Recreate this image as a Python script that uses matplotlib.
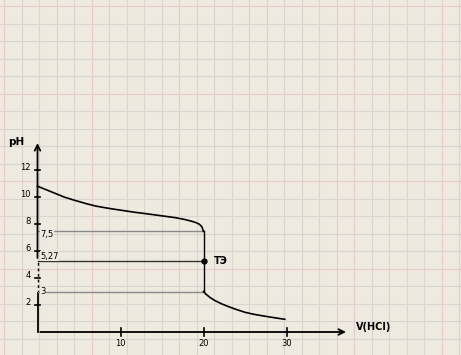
import matplotlib.pyplot as plt
import numpy as np

# titration curve
v_before = [0, 1, 2, 3.2, 4.5, 5.8, 7, 8.2, 9.3, 10.5, 11.7, 13, 14.2, 15.4,
            16.6, 17.7, 18.6, 19.1, 19.5, 19.8, 20.0]
ph_before = [10.8, 10.55, 10.3, 10.0, 9.75, 9.52, 9.33, 9.2, 9.09, 8.98,
             8.87, 8.77, 8.67, 8.57, 8.47, 8.34, 8.2, 8.1, 7.98, 7.8, 7.45]
v_after = [20, 20.3, 20.8, 21.4, 22.2, 23, 24, 25, 26, 27, 28.4, 29.8]
ph_after = [3.0, 2.8, 2.55, 2.32, 2.08, 1.88, 1.66, 1.46, 1.32, 1.21, 1.07, 0.94]

ph_marks = [7.5, 5.27, 3]
ph_mark_labels = ["7,5", "5,27", "3"]
label_offsets = [-0.3, 0.35, 0.0]
v_eq = 20
ph_eq = 5.27

x_ticks = [10, 20, 30]
y_ticks = [2, 4, 6, 8, 10, 12]

fig = plt.figure(figsize=(4.61, 3.55), dpi=100)
paper = '#eeeadf'

# graph paper background
bg = fig.add_axes([0, 0, 1, 1])
bg.set_xlim(0, 461)
bg.set_ylim(355, 0)
bg.set_facecolor(paper)
bg.axis('off')
fig.patch.set_facecolor(paper)
for k, x in enumerate(np.arange(4, 461, 17.5)):
    c = '#e8cccc' if k % 5 == 0 else '#d8d5d0'
    bg.axvline(x, color=c, lw=0.8)
for k, y in enumerate(np.arange(6, 355, 17.5)):
    c = '#e8cccc' if k % 5 == 0 else '#d8d5d0'
    bg.axhline(y, color=c, lw=0.8)

ax = fig.add_axes([0, 0, 1, 1])
ax.set_xlim(-37.5 / 8.3, (461 - 37.5) / 8.3)
ax.set_ylim((332 - 355) / 13.5, 332 / 13.5)
ax.axis('off')
ax.patch.set_alpha(0)

# axes with arrows
ax.annotate('', xy=(37.5, 0), xytext=(0, 0),
            arrowprops=dict(arrowstyle='->', color='black', lw=1.3))
ax.plot([0, 0], [0, 2.9], color='black', lw=1.3)
ax.plot([0, 0], [2.9, 5.27], color='black', lw=1.0, ls=(0, (2, 2)))
ax.annotate('', xy=(0, 14.2), xytext=(0, 5.27),
            arrowprops=dict(arrowstyle='->', color='black', lw=1.3))

for x in x_ticks:
    ax.plot([x, x], [-0.3, 0.3], color='black', lw=1.2)
    ax.text(x, -0.85, str(x), ha='center', va='center', fontsize=6)
for y in y_ticks:
    ax.plot([-0.25, 0.25], [y, y], color='black', lw=1.2)
    ax.text(-0.85, y + 0.2, str(y), ha='right', va='center', fontsize=6)

ax.text(-2.6, 14.1, 'pH', ha='center', va='center', fontsize=7.5, fontweight='bold')
ax.text(38.4, 0.4, 'V(HCl)', ha='left', va='center', fontsize=7, fontweight='bold')

# helper lines to the equivalence volume
line_colors = ['#8a8a8a', '#333333', '#8a8a8a']
for p, lab, c, off in zip(ph_marks, ph_mark_labels, line_colors, label_offsets):
    ax.plot([0, v_eq], [p, p], color=c, lw=1.0)
    ax.text(0.35, p + off, lab, ha='left', va='center', fontsize=6,
            bbox=dict(facecolor=paper, edgecolor='none', pad=0.2))

# curve
ax.plot(v_before, ph_before, color='black', lw=1.2)
ax.plot([v_eq, v_eq], [ph_before[-1], ph_after[0]], color='black', lw=1.0)
ax.plot(v_after, ph_after, color='black', lw=1.2)
ax.plot([v_eq], [ph_eq], 'o', color='black', ms=3.5)
ax.text(v_eq + 1.3, ph_eq, 'ТЭ', ha='left', va='center', fontsize=7, fontweight='bold')

fig.savefig('out.png', dpi=100, facecolor=fig.get_facecolor())
